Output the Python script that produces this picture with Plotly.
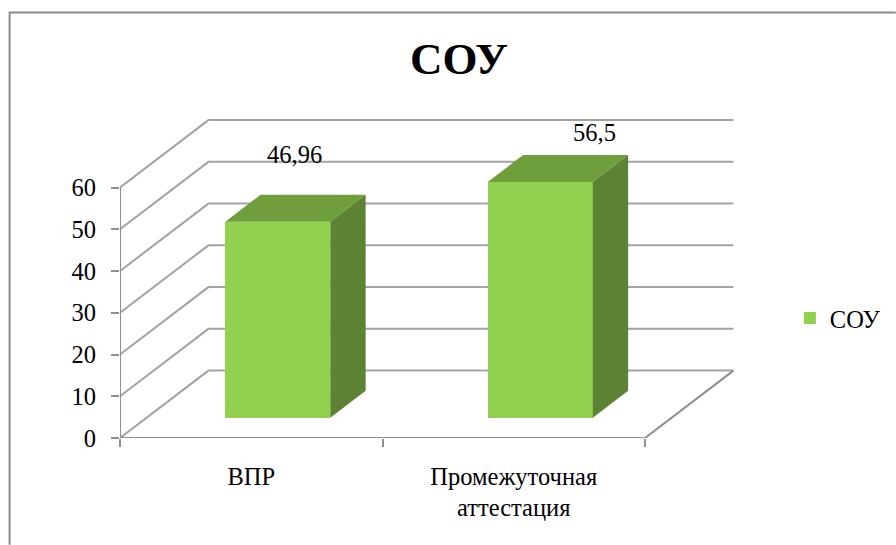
import plotly.graph_objects as go

categories = ["ВПР", "Промежуточная<br>аттестация"]
series_name = "СОУ"
values = [46.96, 56.5]
value_labels = ["46,96", "56,5"]
y_ticks = [0, 10, 20, 30, 40, 50, 60]

W, H = 896, 545
PX_X0, PX_CAT = 119.5, 262.75
PX_Y0, PX_UNIT = 438.0, 4.18
X_MAX, Y_MAX = 2.4, 80
DX, DY = 88.5 / PX_CAT, 67.5 / PX_UNIT
BAR_W, FRONT, DEPTH = 0.4, 0.3, 0.4

GRID = "#a3a3a3"
AXIS = "#8f8f8f"
FRONT_C, TOP_C, SIDE_C = "#92d050", "#6f9e3c", "#5e8233"
FONT = "Liberation Serif"
FS = 24.5
n = len(categories)
centers = [i + 0.5 for i in range(n)]

fig = go.Figure()
shapes = []
for v in y_ticks:
    path = f"M0,{v} L{DX},{v + DY} L{n + DX},{v + DY}"
    shapes.append(dict(type="path", path=path, xref="x", yref="y", layer="below",
                       line=dict(color=GRID, width=2)))

# frame of the chart area (paper coordinates)
px_w = X_MAX * PX_CAT
px_h = Y_MAX * PX_UNIT
fx = lambda p: (p - PX_X0) / px_w
fy = lambda p: (PX_Y0 - p) / px_h
shapes.append(dict(type="path", xref="paper", yref="paper", layer="below",
                   path=f"M{fx(9)},{fy(545)} L{fx(9)},{fy(12)} L{fx(896)},{fy(12)}",
                   line=dict(color="#8a8a8a", width=2)))

fx0 = [c + FRONT * DX for c in centers]
base = FRONT * DY
fig.add_trace(go.Bar(x=fx0, y=values, base=base, width=BAR_W, name=series_name,
                     marker=dict(color=FRONT_C, line=dict(width=0)), showlegend=True,
                     hoverinfo="skip"))

for c, v in zip(fx0, values):
    l, r = c - BAR_W / 2, c + BAR_W / 2
    t = base + v
    ox, oy = DEPTH * DX, DEPTH * DY
    fig.add_trace(go.Scatter(x=[l, r, r + ox, l + ox, l], y=[t, t, t + oy, t + oy, t],
                             mode="lines", fill="toself", fillcolor=TOP_C,
                             line=dict(width=0), showlegend=False, hoverinfo="skip"))
    fig.add_trace(go.Scatter(x=[r, r + ox, r + ox, r, r],
                             y=[base, base + oy, t + oy, t, base],
                             mode="lines", fill="toself", fillcolor=SIDE_C,
                             line=dict(width=0), showlegend=False, hoverinfo="skip"))

# axis wall lines that sit outside the plot edge or in front of the floor
fig.add_trace(go.Scatter(x=[0, 0], y=[y_ticks[0], y_ticks[-1]], mode="lines", cliponaxis=False,
                         line=dict(color=AXIS, width=2), showlegend=False, hoverinfo="skip"))
fig.add_trace(go.Scatter(x=[0, n, n + DX], y=[0, 0, DY], mode="lines", cliponaxis=False,
                         line=dict(color=AXIS, width=2), showlegend=False, hoverinfo="skip"))

label_shift = [(17, -67), (54, -49)]
annotations = []
for c, v, txt, (sx, sy) in zip(fx0, values, value_labels, label_shift):
    annotations.append(dict(x=c, y=base + v, text=txt, showarrow=False, xanchor="center",
                            yanchor="middle", xshift=sx, yshift=-sy,
                            font=dict(family=FONT, size=FS, color="#000000")))

fig.update_layout(
    width=W, height=H, autosize=False,
    margin=dict(l=PX_X0, r=W - PX_X0 - px_w, t=PX_Y0 - px_h, b=H - PX_Y0, pad=0, autoexpand=False),
    paper_bgcolor="#ffffff", plot_bgcolor="rgba(0,0,0,0)",
    font=dict(family=FONT, size=FS, color="#000000"),
    title=dict(text=f"<b>{series_name}</b>", x=459 / W, y=1 - 58 / H, xanchor="center",
               yanchor="middle", xref="container", yref="container",
               font=dict(family=FONT, size=45, color="#000000")),
    xaxis=dict(range=[0, X_MAX], tickmode="array", tickvals=centers, ticktext=categories,
               ticks="", showgrid=False, zeroline=False, showline=False,
               ticklabelstandoff=21,
               minor=dict(tickmode="array", tickvals=[0, 1, 2], ticks="outside", ticklen=8,
                          tickwidth=2, tickcolor=AXIS, showgrid=False)),
    yaxis=dict(range=[0, Y_MAX], tickmode="array", tickvals=y_ticks, ticks="outside", ticklen=8,
               tickwidth=2, tickcolor=AXIS, showgrid=False, zeroline=False, showline=False,
               ticklabelstandoff=10),
    legend=dict(x=fx(790), y=fy(318), xanchor="left", yanchor="middle",
                bgcolor="rgba(0,0,0,0)", font=dict(family=FONT, size=FS)),
    shapes=shapes, annotations=annotations, bargap=0,
)

fig.write_html("out.html", config=dict(displayModeBar=False),
               post_script="document.body.style.margin='0';document.body.style.overflow='hidden';")
